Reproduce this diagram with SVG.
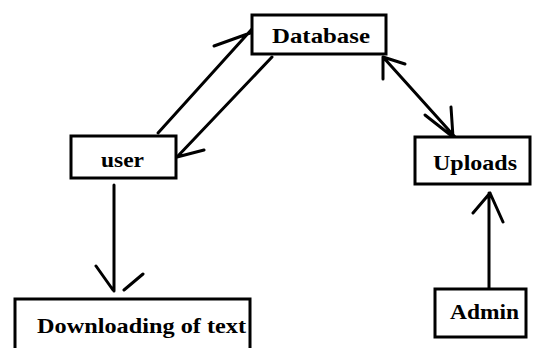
<svg xmlns="http://www.w3.org/2000/svg" width="537" height="348" viewBox="0 0 537 348">
<style>
.box{fill:#fff;stroke:#000;stroke-width:3}
.lbl{font-family:"Liberation Serif","Times New Roman",serif;font-weight:bold;font-size:21px;fill:#000}
.ln{stroke:#000;stroke-width:3;fill:none;stroke-linecap:round}
</style>
<rect width="537" height="348" fill="#fff"/>
<g id="connectors">
<path class="ln" d="M158,133 L252,29 M214,46 L253,32"/>
<path class="ln" d="M272,57 L177,157 M177,157 L204,150"/>
<path class="ln" d="M383,57 L455,137 M383,57 L405,64 M383,57 L383,79 M451,107 L453,137 M425,115 L453,137"/>
<path class="ln" d="M114,185 L114,291 M96,266 L113,290 M124,290 L143,274"/>
<path class="ln" d="M489,288 L489,193 M473,213 L490,193 M503,222 L490,193"/>
</g>
<g id="database">
<rect class="box" x="252" y="15" width="134" height="39"/>
<text class="lbl" x="272" y="43" textLength="98" lengthAdjust="spacingAndGlyphs">Database</text>
</g>
<g id="user">
<rect class="box" x="71" y="136" width="105" height="42"/>
<text class="lbl" x="101" y="167" textLength="43" lengthAdjust="spacingAndGlyphs">user</text>
</g>
<g id="uploads">
<rect class="box" x="415" y="137" width="115" height="47"/>
<text class="lbl" x="433" y="170" textLength="84" lengthAdjust="spacingAndGlyphs">Uploads</text>
</g>
<g id="downloading">
<rect class="box" x="15" y="299" width="235" height="60"/>
<text class="lbl" x="37" y="333" textLength="209" lengthAdjust="spacingAndGlyphs">Downloading of text</text>
</g>
<g id="admin">
<rect class="box" x="435" y="289" width="91" height="48"/>
<text class="lbl" x="450" y="319" textLength="69" lengthAdjust="spacingAndGlyphs">Admin</text>
</g>
</svg>
